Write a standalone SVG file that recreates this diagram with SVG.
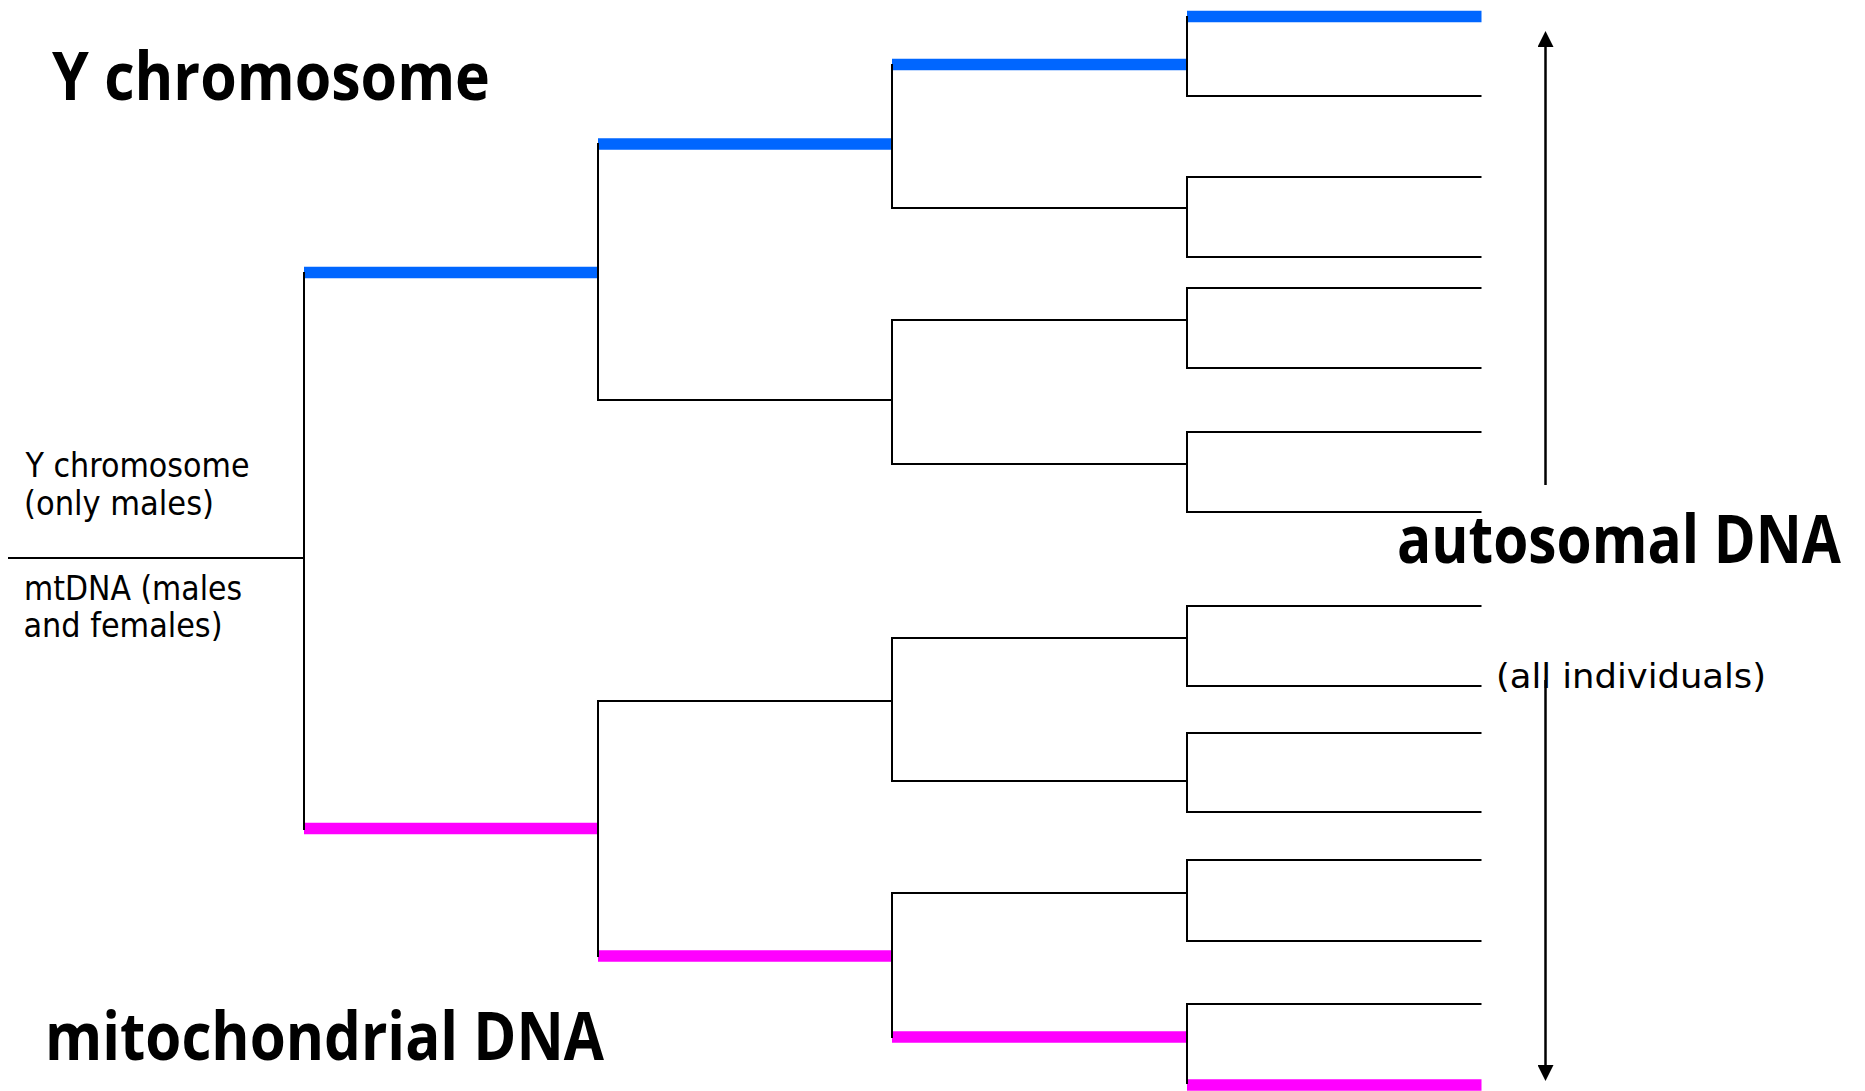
<svg xmlns="http://www.w3.org/2000/svg" width="1865" height="1091" viewBox="0 0 1865 1091">
<style>
.k{stroke:#000;stroke-width:2;fill:none;stroke-linecap:butt}
.b{stroke:#0066FF;stroke-width:11.5;fill:none}
.p{stroke:#FF00FF;stroke-width:11.5;fill:none}
.ar{stroke:#000;stroke-width:2.5;fill:none}
.big{font-family:"Open Sans","DejaVu Sans","Liberation Sans",sans-serif;font-weight:700;font-size:66px;fill:#000}
.sm{font-family:"DejaVu Sans Condensed","DejaVu Sans","Liberation Sans",sans-serif;font-stretch:condensed;font-size:33px;fill:#000}
</style>
<defs>
<marker id="ah" viewBox="0 0 16 16" refX="0" refY="8" markerWidth="16" markerHeight="16" markerUnits="userSpaceOnUse" orient="auto">
<path d="M0,0 L16,8 L0,16 Z" fill="#000"/>
</marker>
</defs>
<rect width="1865" height="1091" fill="#fff"/>

<g id="connectors">
<line class="k" x1="8" y1="558" x2="304" y2="558"/>
<line class="b" x1="304" y1="272.5" x2="598" y2="272.5"/>
<line class="p" x1="304" y1="828.5" x2="598" y2="828.5"/>
<line class="b" x1="598" y1="144" x2="892" y2="144"/>
<line class="k" x1="598" y1="400" x2="892" y2="400"/>
<line class="k" x1="598" y1="701" x2="892" y2="701"/>
<line class="p" x1="598" y1="956" x2="892" y2="956"/>
<line class="b" x1="892" y1="64.5" x2="1187" y2="64.5"/>
<line class="k" x1="892" y1="208" x2="1187" y2="208"/>
<line class="k" x1="892" y1="320" x2="1187" y2="320"/>
<line class="k" x1="892" y1="464" x2="1187" y2="464"/>
<line class="k" x1="892" y1="638" x2="1187" y2="638"/>
<line class="k" x1="892" y1="781" x2="1187" y2="781"/>
<line class="k" x1="892" y1="893" x2="1187" y2="893"/>
<line class="p" x1="892" y1="1037" x2="1187" y2="1037"/>
<line class="b" x1="1187" y1="16.5" x2="1481.5" y2="16.5"/>
<line class="k" x1="1187" y1="96" x2="1481.5" y2="96"/>
<line class="k" x1="1187" y1="177" x2="1481.5" y2="177"/>
<line class="k" x1="1187" y1="257" x2="1481.5" y2="257"/>
<line class="k" x1="1187" y1="288" x2="1481.5" y2="288"/>
<line class="k" x1="1187" y1="368" x2="1481.5" y2="368"/>
<line class="k" x1="1187" y1="432" x2="1481.5" y2="432"/>
<line class="k" x1="1187" y1="512" x2="1481.5" y2="512"/>
<line class="k" x1="1187" y1="606" x2="1481.5" y2="606"/>
<line class="k" x1="1187" y1="686" x2="1481.5" y2="686"/>
<line class="k" x1="1187" y1="733" x2="1481.5" y2="733"/>
<line class="k" x1="1187" y1="812" x2="1481.5" y2="812"/>
<line class="k" x1="1187" y1="860" x2="1481.5" y2="860"/>
<line class="k" x1="1187" y1="941" x2="1481.5" y2="941"/>
<line class="k" x1="1187" y1="1004" x2="1481.5" y2="1004"/>
<line class="p" x1="1187" y1="1085" x2="1481.5" y2="1085"/>
<line class="ar" x1="1545.5" y1="485" x2="1545.5" y2="47" marker-end="url(#ah)"/>
<line class="ar" x1="1545.5" y1="680" x2="1545.5" y2="1065" marker-end="url(#ah)"/>
</g>

<g id="node-n1"><line class="k" x1="304" y1="272" x2="304" y2="830"/></g>
<g id="node-n2a"><line class="k" x1="598" y1="143" x2="598" y2="401"/></g>
<g id="node-n2b"><line class="k" x1="598" y1="700" x2="598" y2="957"/></g>
<g id="node-n3a"><line class="k" x1="892" y1="64" x2="892" y2="209"/></g>
<g id="node-n3b"><line class="k" x1="892" y1="319" x2="892" y2="465"/></g>
<g id="node-n3c"><line class="k" x1="892" y1="637" x2="892" y2="782"/></g>
<g id="node-n3d"><line class="k" x1="892" y1="892" x2="892" y2="1038"/></g>
<g id="node-n4a"><line class="k" x1="1187" y1="16" x2="1187" y2="97"/></g>
<g id="node-n4b"><line class="k" x1="1187" y1="176" x2="1187" y2="258"/></g>
<g id="node-n4c"><line class="k" x1="1187" y1="287" x2="1187" y2="369"/></g>
<g id="node-n4d"><line class="k" x1="1187" y1="431" x2="1187" y2="513"/></g>
<g id="node-n4e"><line class="k" x1="1187" y1="605" x2="1187" y2="687"/></g>
<g id="node-n4f"><line class="k" x1="1187" y1="732" x2="1187" y2="813"/></g>
<g id="node-n4g"><line class="k" x1="1187" y1="859" x2="1187" y2="942"/></g>
<g id="node-n4h"><line class="k" x1="1187" y1="1003" x2="1187" y2="1084"/></g>

<g id="label-y-title"><text class="big" x="52" y="100" textLength="438" lengthAdjust="spacingAndGlyphs">Y chromosome</text></g>
<g id="label-mt-title"><text class="big" x="45" y="1060" textLength="559" lengthAdjust="spacingAndGlyphs">mitochondrial DNA</text></g>
<g id="label-auto-title"><text class="big" x="1397" y="563" textLength="444" lengthAdjust="spacingAndGlyphs">autosomal DNA</text></g>
<g id="label-y-small">
<text class="sm" x="25.5" y="477" textLength="224" lengthAdjust="spacingAndGlyphs">Y chromosome</text>
<text class="sm" x="24" y="515" textLength="190" lengthAdjust="spacingAndGlyphs">(only males)</text>
</g>
<g id="label-mt-small">
<text class="sm" x="24" y="600" textLength="218" lengthAdjust="spacingAndGlyphs">mtDNA (males</text>
<text class="sm" x="23.5" y="637" textLength="199" lengthAdjust="spacingAndGlyphs">and females)</text>
</g>
<g id="label-all"><text class="sm" x="1496" y="688" textLength="270" lengthAdjust="spacingAndGlyphs">(all individuals)</text></g>
</svg>
